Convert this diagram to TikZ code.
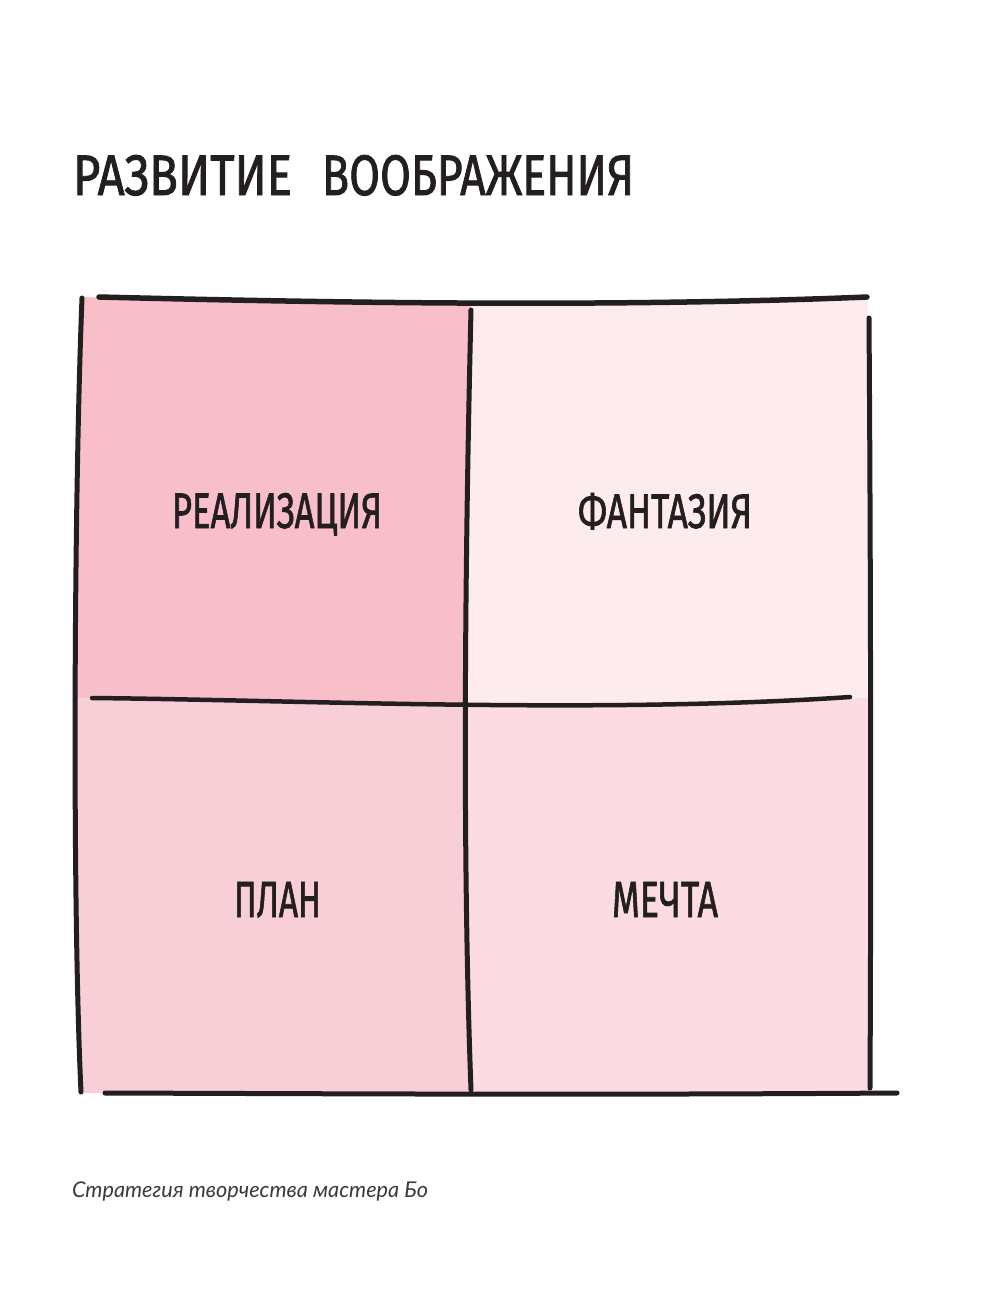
\documentclass[tikz,border=0pt]{standalone}
\usepackage{fontspec}
\usepackage{graphicx}
\newfontfamily\handfont[FakeBold=1.6]{Fira Sans}
\newfontfamily\capfont{Lato}
\definecolor{inkc}{HTML}{231F20}
\definecolor{tlc}{HTML}{F8BFCB}
\definecolor{trc}{HTML}{FDEBEE}
\definecolor{blc}{HTML}{F9CFD7}
\definecolor{brc}{HTML}{FCDCE2}
\definecolor{capc}{HTML}{3A3A3A}
\tikzset{
  ink/.style={draw=inkc, line width=#1, line cap=round, line join=round},
  ink/.default=5pt,
  lbl/.style={inner sep=0pt, outer sep=0pt, text=inkc, font=\handfont, anchor=base west},
}
\begin{document}
\begin{tikzpicture}[x=1pt,y=-1pt]
\useasboundingbox (0,0) rectangle (986,1299);
% corner coordinates
\coordinate (A) at (82,297);
\coordinate (B) at (471,305);
\coordinate (C) at (868,297);
\coordinate (D) at (76,698);
\coordinate (E) at (465,706);
\coordinate (F) at (870,698);
\coordinate (G) at (80,1093);
\coordinate (H) at (471,1094);
\coordinate (I) at (870,1092);
% fills
\fill[tlc] (A) -- (B) -- (E) -- (D) -- cycle;
\fill[trc] (B) -- (C) -- (F) -- (E) -- cycle;
\fill[blc] (D) -- (E) -- (H) -- (G) -- cycle;
\fill[brc] (E) -- (F) -- (I) -- (H) -- cycle;
% lines
\coordinate (t1) at (99,297);
\coordinate (t2) at (867,297);
\draw[ink=5.5pt] (t1) .. controls (300,302) and (600,308) .. (t2);
\coordinate (l1) at (82,298);
\coordinate (l2) at (81,1092);
\draw[ink=5pt] (l1) .. controls (74,500) and (72,900) .. (l2);
\coordinate (r1) at (869,318);
\coordinate (r2) at (870,1088);
\draw[ink=5pt] (r1) .. controls (871,600) and (871,900) .. (r2);
\coordinate (m1) at (92,698);
\coordinate (m2) at (850,697);
\draw[ink=4.5pt] (m1) .. controls (300,700) and (600,714) .. (m2);
\coordinate (v1) at (471,310);
\coordinate (v2) at (471,1090);
\draw[ink=5pt] (v1) .. controls (465,560) and (462,850) .. (v2);
\coordinate (b1) at (105,1093);
\coordinate (b2) at (897,1093);
\draw[ink=5pt] (b1) .. controls (400,1094) and (600,1095) .. (b2);
% title
\node[lbl] (title1) at (73,195) {\resizebox{219pt}{40pt}{РАЗВИТИЕ}};
\node[lbl] (title2) at (322,195) {\resizebox{312pt}{40pt}{ВООБРАЖЕНИЯ}};
% labels
\node[lbl] (real) at (172,528) {\resizebox{210pt}{35pt}{РЕАЛИЗАЦИЯ}};
\node[lbl] (fant) at (578,528) {\resizebox{174pt}{35pt}{ФАНТАЗИЯ}};
\node[lbl] (plan) at (234,917) {\resizebox{87pt}{35pt}{ПЛАН}};
\node[lbl] (mech) at (612,917) {\resizebox{106pt}{35pt}{МЕЧТА}};
% caption
\node[inner sep=0pt, outer sep=0pt, anchor=base west, text=capc, font=\capfont\itshape] (cap) at (72,1197) {\resizebox{356pt}{!}{Стратегия творчества мастера Бо}};
\end{tikzpicture}
\end{document}
